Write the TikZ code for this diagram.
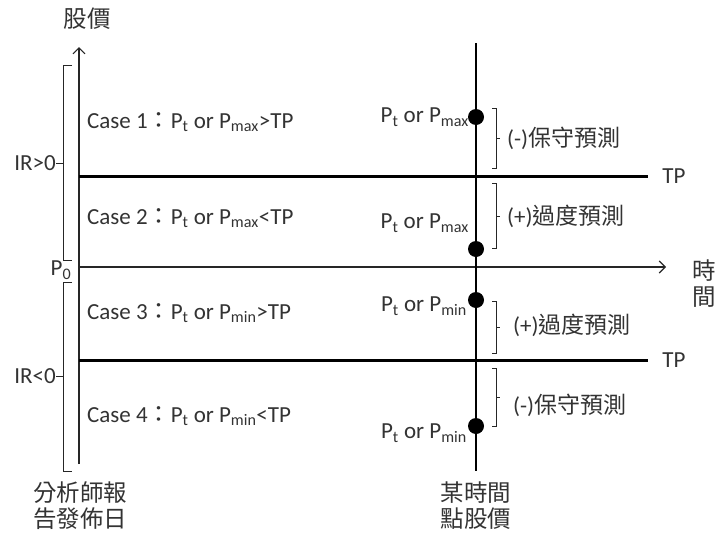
\documentclass[tikz,border=0pt]{standalone}
\usepackage{fontspec}
\setmainfont{Carlito}
\newfontfamily\cjk{Noto Sans CJK TC}
\usetikzlibrary{arrows.meta}
\begin{document}
\begin{tikzpicture}[x=1pt,y=-1pt,
  txt/.style={inner sep=0pt, text=black!80, font=\fontsize{23}{27}\selectfont},
  cj/.style={inner sep=0pt, text=black!80, font=\fontsize{23.5}{26}\cjk},
  axis/.style={line width=1.1pt, draw=black!85},
  tpline/.style={line width=3pt, draw=black},
  tline/.style={line width=2.2pt, draw=black},
  brk/.style={line width=0.9pt, draw=black!85},
  dot/.style={circle, fill=black, inner sep=0pt, minimum size=16pt}]
\useasboundingbox (0,0) rectangle (718,533);
% axes
\coordinate (O) at (79,267);
\coordinate (ytop) at (79,47);
\coordinate (ybot) at (79,464);
\coordinate (xend) at (666,267);
\draw[axis, -{Straight Barb[length=6pt,width=12pt]}] (ybot) -- (ytop);
\draw[axis, -{Straight Barb[length=6pt,width=12pt]}] (O) -- (xend);
\node[cj] (ylab) at (87,19) {股價};
\node[cj] (x1) at (704,271) {時};
\node[cj] (x2) at (704,297) {間};
% TP lines
\coordinate (tp1a) at (79,176); \coordinate (tp1b) at (648,176);
\coordinate (tp2a) at (79,360); \coordinate (tp2b) at (648,360);
\draw[tpline] (tp1a) -- (tp1b);
\draw[tpline] (tp2a) -- (tp2b);
\node[txt] (tp1) at (674,176) {TP};
\node[txt] (tp2) at (674,360) {TP};
% time line
\coordinate (vt) at (476,43); \coordinate (vb) at (476,471);
\draw[tline] (vt) -- (vb);
\node[dot] (d1) at (476,117) {};
\node[dot] (d2) at (476,249) {};
\node[dot] (d3) at (476,300) {};
\node[dot] (d4) at (476,426) {};
\node[txt, anchor=east] (l1) at (469,117) {P\textsubscript{t} or P\textsubscript{max}};
\node[txt, anchor=east] (l2) at (469,223) {P\textsubscript{t} or P\textsubscript{max}};
\node[txt, anchor=east] (l3) at (467,306) {P\textsubscript{t} or P\textsubscript{min}};
\node[txt, anchor=east] (l4) at (467,433) {P\textsubscript{t} or P\textsubscript{min}};
% case labels
\node[txt, anchor=west] (c1) at (87,122) {Case 1{\cjk ：}P\textsubscript{t} or P\textsubscript{max}>TP};
\node[txt, anchor=west] (c2) at (87,218) {Case 2{\cjk ：}P\textsubscript{t} or P\textsubscript{max}<TP};
\node[txt, anchor=west] (c3) at (87,313) {Case 3{\cjk ：}P\textsubscript{t} or P\textsubscript{min}>TP};
\node[txt, anchor=west] (c4) at (87,416) {Case 4{\cjk ：}P\textsubscript{t} or P\textsubscript{min}<TP};
% right brackets
\draw[brk] (492,108) -- (496,108) -- (496,168) -- (492,168);
\draw[brk] (496,138) -- (500,138);
\draw[brk] (492,183) -- (496,183) -- (496,248) -- (492,248);
\draw[brk] (496,216) -- (500,216);
\draw[brk] (492,301) -- (496,301) -- (496,353) -- (492,353);
\draw[brk] (496,327) -- (500,327);
\draw[brk] (492,368) -- (496,368) -- (496,426) -- (492,426);
\draw[brk] (496,397) -- (500,397);
\node[txt, anchor=west] (b1) at (507,138) {(-){\cjk 保守預測}};
\node[txt, anchor=west] (b2) at (507,216) {(+){\cjk 過度預測}};
\node[txt, anchor=west] (b3) at (513,325) {(+){\cjk 過度預測}};
\node[txt, anchor=west] (b4) at (513,405) {(-){\cjk 保守預測}};
% left brackets
\draw[brk] (72,65) -- (63,65) -- (63,260) -- (72,260);
\draw[brk] (63,163) -- (56,163);
\draw[brk] (72,282) -- (63,282) -- (63,471) -- (72,471);
\draw[brk] (63,376) -- (56,376);
\node[txt, anchor=east] (ir1) at (56,163) {IR>0};
\node[txt, anchor=east] (ir2) at (56,376) {IR<0};
\node[txt] (p0) at (61,270) {P\textsubscript{0}};
% bottom labels
\node[cj, align=center] (bl) at (80,506) {分析師報\\告發佈日};
\node[cj, align=center] (br) at (476,506) {某時間\\點股價};
\end{tikzpicture}
\end{document}
